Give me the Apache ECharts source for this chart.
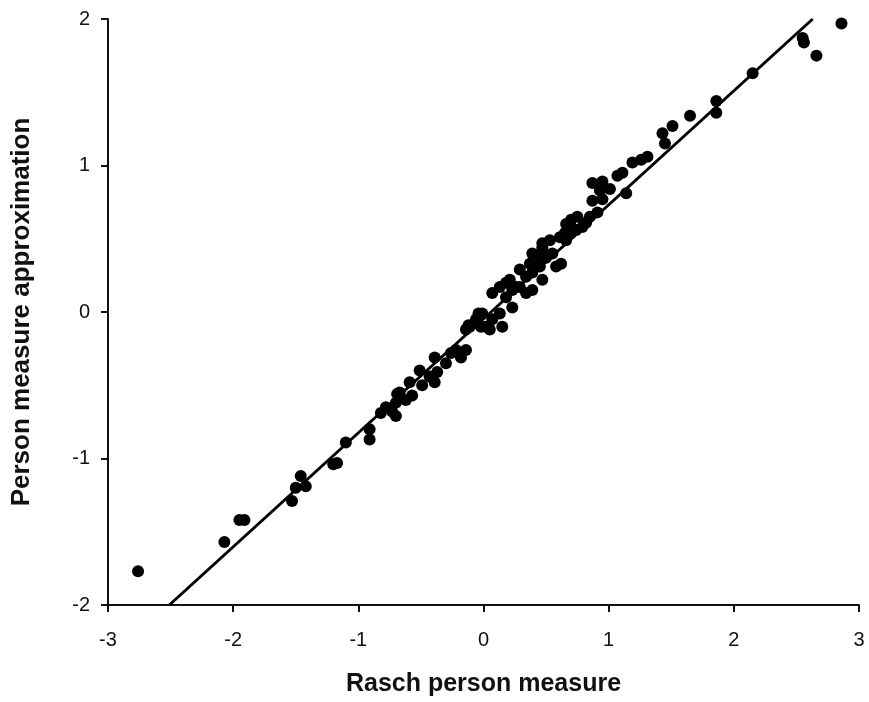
<!DOCTYPE html>
<html>
<head>
<meta charset="utf-8">
<script src="https://cdn.jsdelivr.net/npm/echarts@6/dist/echarts.min.js"></script>
<style>
html,body{margin:0;padding:0;background:#fff;}
#chart{width:869px;height:702px;}
</style>
</head>
<body>
<div id="chart"></div>
<script>
// Rasch person measure (x) and person measure approximation (y)
const raschX = [-2.76,-2.07,-1.95,-1.91,-1.53,-1.50,-1.46,-1.42,-1.20,-1.17,-1.10,-0.91,-0.91,-0.82,-0.73,-0.70,-0.69,-0.78,-0.70,-0.67,-0.62,-0.59,-0.57,-0.51,-0.49,-0.43,-0.39,-0.39,-0.37,-0.30,-0.26,-0.22,-0.18,-0.14,-0.12,-0.04,-0.02,-0.14,-0.11,-0.06,-0.01,0.02,0.05,0.07,0.13,0.15,0.07,0.18,0.23,0.18,0.26,0.13,0.23,0.29,0.34,0.39,0.21,0.29,0.34,0.39,0.47,0.37,0.45,0.45,0.39,0.47,0.50,0.55,0.58,0.62,0.47,0.47,0.53,0.61,0.66,0.70,0.65,0.69,0.66,0.74,0.75,0.79,0.82,0.70,0.85,0.91,0.87,0.95,0.93,0.87,0.95,1.01,1.14,1.07,1.11,1.19,1.26,1.31,1.43,1.45,1.51,1.65,1.86,1.86,2.15,2.55,2.56,2.66,2.86];
const approxY = [-1.77,-1.57,-1.42,-1.42,-1.29,-1.20,-1.12,-1.19,-1.04,-1.03,-0.89,-0.80,-0.87,-0.69,-0.68,-0.71,-0.56,-0.65,-0.62,-0.55,-0.60,-0.48,-0.57,-0.40,-0.50,-0.44,-0.31,-0.48,-0.41,-0.35,-0.28,-0.26,-0.31,-0.26,-0.09,-0.01,-0.10,-0.12,-0.10,-0.05,-0.01,-0.10,-0.12,-0.05,-0.01,-0.10,0.13,0.10,0.03,0.20,0.17,0.17,0.15,0.17,0.13,0.15,0.22,0.29,0.24,0.27,0.22,0.33,0.31,0.35,0.40,0.44,0.37,0.40,0.31,0.33,0.42,0.47,0.49,0.51,0.49,0.54,0.54,0.61,0.60,0.56,0.65,0.58,0.61,0.63,0.65,0.68,0.76,0.77,0.83,0.88,0.89,0.84,0.81,0.93,0.95,1.02,1.04,1.06,1.22,1.15,1.27,1.34,1.44,1.36,1.63,1.87,1.84,1.75,1.97];
// fitted line endpoints (clipped at plot edges)
const fitX = [-2.51, 2.63];
const fitY = [-2, 2];
const xTicks = [-3,-2,-1,0,1,2,3];
const yTicks = [-2,-1,0,1,2];

const pts = raschX.map((x,i)=>[x, approxY[i]]);
const fit = fitX.map((x,i)=>[x, fitY[i]]);
const FONT = '"Liberation Sans", Arial, sans-serif';

const chart = echarts.init(document.getElementById('chart'), null, {renderer:'canvas'});
chart.setOption({
  animation:false,
  backgroundColor:'#fff',
  grid:{left:108, right:10, top:19, bottom:96, containLabel:false},
  xAxis:{
    type:'value', min:xTicks[0], max:xTicks[xTicks.length-1], interval:1,
    name:'Rasch person measure', nameLocation:'middle', nameGap:67,
    nameTextStyle:{fontFamily:FONT, fontSize:25, fontWeight:'bold', color:'#111'},
    axisLine:{show:true, onZero:false, lineStyle:{color:'#111', width:2}},
    axisTick:{show:true, inside:false, length:7, lineStyle:{color:'#111', width:2}},
    axisLabel:{fontFamily:FONT, fontSize:20, color:'#111', margin:25},
    splitLine:{show:false}
  },
  yAxis:{
    type:'value', min:yTicks[0], max:yTicks[yTicks.length-1], interval:1,
    name:'Person measure approximation', nameLocation:'middle', nameGap:73, nameRotate:90,
    nameTextStyle:{fontFamily:FONT, fontSize:26, fontWeight:'bold', color:'#111'},
    axisLine:{show:true, onZero:false, lineStyle:{color:'#111', width:2}},
    axisTick:{show:true, inside:false, length:7, lineStyle:{color:'#111', width:2}},
    axisLabel:{fontFamily:FONT, fontSize:20, color:'#111', margin:18},
    splitLine:{show:false}
  },
  series:[
    {type:'line', data:fit, symbol:'none', lineStyle:{color:'#000', width:3}, z:2, silent:true},
    {type:'scatter', data:pts, symbol:'circle', symbolSize:12, itemStyle:{color:'#000', opacity:1}, z:3}
  ]
});
</script>
</body>
</html>
